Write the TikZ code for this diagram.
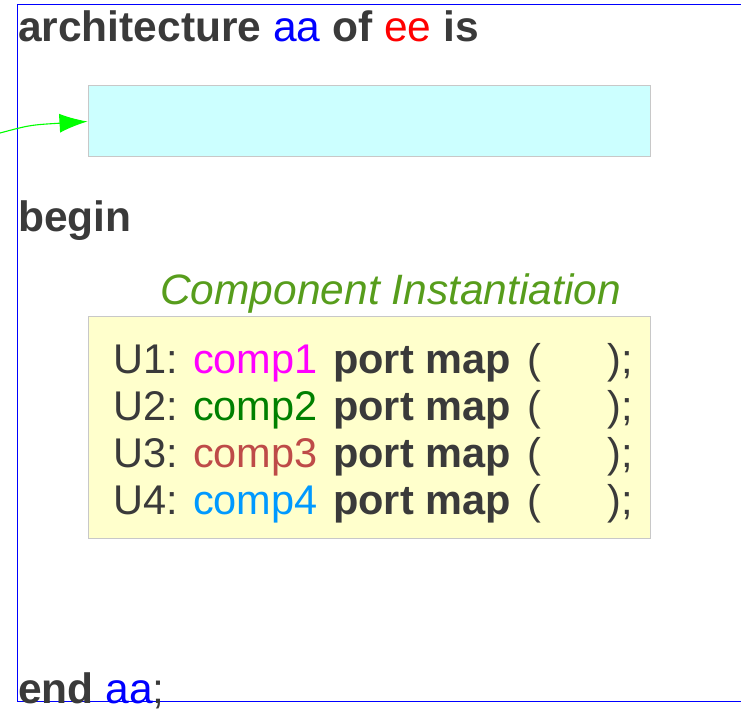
\documentclass[tikz,border=0pt]{standalone}
\usepackage{fontspec}
\setmainfont{Liberation Sans}
\usetikzlibrary{arrows.meta}
\definecolor{txt}{HTML}{3A3A3A}
\definecolor{kwblue}{HTML}{0000FF}
\definecolor{kwred}{HTML}{FF0000}
\definecolor{cyanfill}{HTML}{CCFFFF}
\definecolor{yelfill}{HTML}{FFFFCC}
\definecolor{boxline}{HTML}{C8C8C8}
\definecolor{ciGreen}{HTML}{579D1C}
\definecolor{cmagenta}{HTML}{FF00FF}
\definecolor{cgreen}{HTML}{008000}
\definecolor{cbrown}{HTML}{BE4B48}
\definecolor{cazure}{HTML}{0099FF}
\definecolor{arrowgreen}{HTML}{00FF00}
\tikzset{
  big/.style={anchor=base west, inner sep=0pt, text=txt, font=\fontsize{42.5}{50}\selectfont},
  codeline/.style={anchor=base west, inner sep=0pt, text=txt, font=\fontsize{41.5}{48}\selectfont},
  codeend/.style={anchor=base east, inner sep=0pt, text=txt, font=\fontsize{41.5}{48}\selectfont},
  panel/.style={draw=boxline, line width=1pt},
}
\begin{document}
\begin{tikzpicture}[x=1pt,y=-1pt]
\useasboundingbox (0,0) rectangle (741,711);
% frame
\draw[kwblue, line width=0.9pt] (741,4) -- (17,4) -- (17,701) -- (741,701);
% header
\node[big] (hdr) at (18,42) {\bfseries architecture \mdseries\textcolor{kwblue}{aa} \bfseries of \mdseries\textcolor{kwred}{ee} \bfseries is};
% cyan box
\node[panel, fill=cyanfill, minimum width=562pt, minimum height=71pt, inner sep=0pt] (decl) at (369,121.5) {};
\coordinate (ain) at (0,133);
\draw[arrowgreen, line width=1.1pt, -{Latex[length=28pt,width=19pt]}] (ain) .. controls (30,125) .. (decl.west);
% begin
\node[big] (beg) at (18,232) {\bfseries begin};
% component instantiation
\node[anchor=base west, inner sep=0pt, text=ciGreen, font=\fontsize{42.5}{50}\selectfont\itshape] (ci) at (160,304) {Component Instantiation};
\node[panel, fill=yelfill, minimum width=562pt, minimum height=222pt, inner sep=0pt] (inst) at (369,427) {};
\node[codeline] (l1) at (113,373) {U1: \textcolor{cmagenta}{comp1}\hspace{4pt} \textbf{port map}\hspace{5pt} (};
\node[codeend] (r1) at (633,373) {);};
\node[codeline] (l2) at (113,420) {U2: \textcolor{cgreen}{comp2}\hspace{4pt} \textbf{port map}\hspace{5pt} (};
\node[codeend] (r2) at (633,420) {);};
\node[codeline] (l3) at (113,467) {U3: \textcolor{cbrown}{comp3}\hspace{4pt} \textbf{port map}\hspace{5pt} (};
\node[codeend] (r3) at (633,467) {);};
\node[codeline] (l4) at (113,514) {U4: \textcolor{cazure}{comp4}\hspace{4pt} \textbf{port map}\hspace{5pt} (};
\node[codeend] (r4) at (633,514) {);};
% end
\node[big] (endn) at (18,703) {\bfseries end \mdseries\textcolor{kwblue}{aa};};
\end{tikzpicture}
\end{document}
